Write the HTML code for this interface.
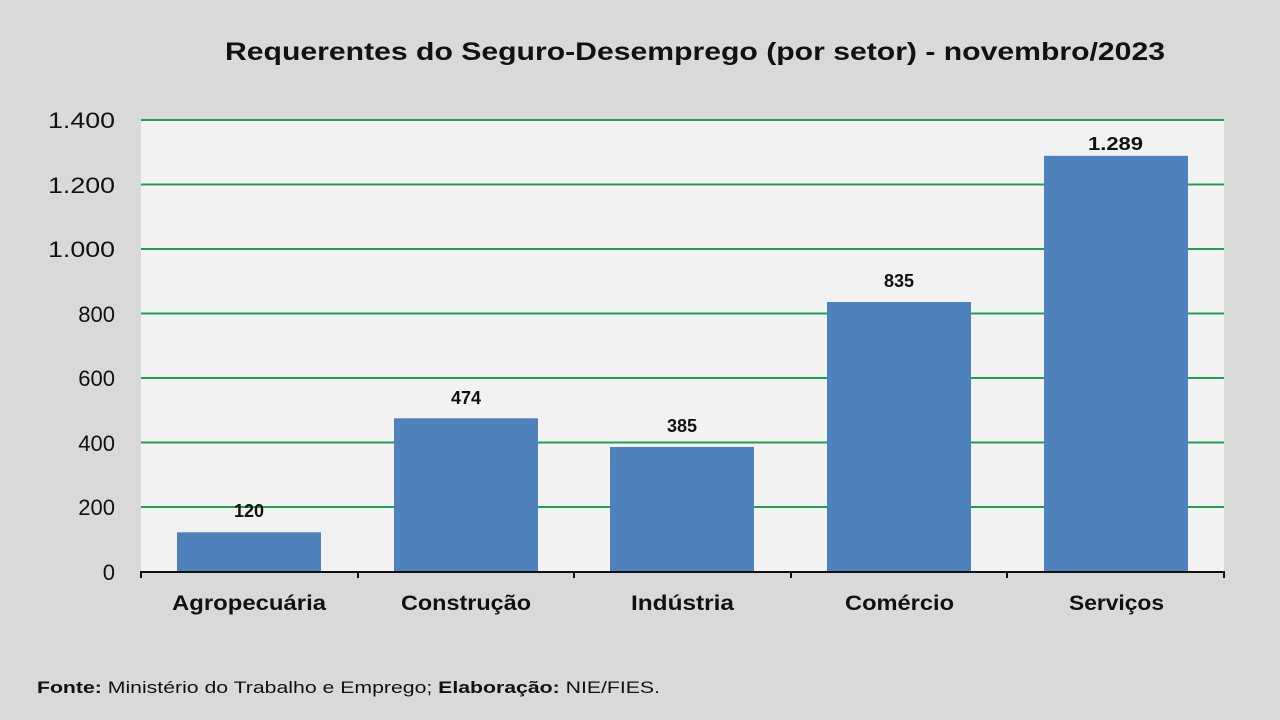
<!DOCTYPE html>
<html><head><meta charset="utf-8"><style>
body{margin:0;width:1280px;height:720px;background:#d9d9d9;overflow:hidden}
svg{display:block}
text{font-family:"Liberation Sans","DejaVu Sans",sans-serif}
</style></head><body>
<svg width="1280" height="720" xmlns="http://www.w3.org/2000/svg">
<rect width="1280" height="720" fill="#d9d9d9"/>
<text x="225" y="60" textLength="940" lengthAdjust="spacingAndGlyphs" font-size="25" font-weight="bold" fill="#111">Requerentes do Seguro-Desemprego (por setor) - novembro/2023</text>
<rect x="141" y="120" width="1083" height="451" fill="#f2f2f2"/>
<g stroke="#1fa050" stroke-width="2">
<line x1="141" x2="1224" y1="120" y2="120"/><line x1="141" x2="1224" y1="184.5" y2="184.5"/>
<line x1="141" x2="1224" y1="249" y2="249"/><line x1="141" x2="1224" y1="313.5" y2="313.5"/>
<line x1="141" x2="1224" y1="378" y2="378"/><line x1="141" x2="1224" y1="442.5" y2="442.5"/>
<line x1="141" x2="1224" y1="507" y2="507"/>
</g>
<g font-size="22" fill="#111">
<text x="48" y="128" textLength="67" lengthAdjust="spacingAndGlyphs">1.400</text>
<text x="48" y="193" textLength="67" lengthAdjust="spacingAndGlyphs">1.200</text>
<text x="48" y="257" textLength="67" lengthAdjust="spacingAndGlyphs">1.000</text>
<text x="115" y="322" text-anchor="end">800</text><text x="115" y="386" text-anchor="end">600</text>
<text x="115" y="451" text-anchor="end">400</text><text x="115" y="515" text-anchor="end">200</text>
<text x="115" y="580" text-anchor="end">0</text>
</g>
<g fill="#4f81bd">
<rect x="177" y="532.3" width="144" height="38.7"/>
<rect x="394" y="418.3" width="144" height="152.7"/>
<rect x="610" y="447" width="144" height="124"/>
<rect x="827" y="302" width="144" height="269"/>
<rect x="1044" y="155.8" width="144" height="415.2"/>
</g>
<g font-size="18" font-weight="bold" fill="#111" text-anchor="middle">
<text x="249" y="517">120</text><text x="466" y="404">474</text><text x="682" y="432">385</text>
<text x="899" y="287">835</text><text x="1088" y="150" text-anchor="start" textLength="55" lengthAdjust="spacingAndGlyphs">1.289</text>
</g>
<g stroke="#111" stroke-width="2">
<line x1="141" x2="1224" y1="572" y2="572"/>
<line x1="141" x2="141" y1="571" y2="578"/><line x1="358" x2="358" y1="571" y2="578"/>
<line x1="574" x2="574" y1="571" y2="578"/><line x1="791" x2="791" y1="571" y2="578"/>
<line x1="1007" x2="1007" y1="571" y2="578"/><line x1="1224" x2="1224" y1="571" y2="578"/>
</g>
<g font-size="21" font-weight="bold" fill="#111" lengthAdjust="spacingAndGlyphs">
<text x="172" y="610" textLength="154" lengthAdjust="spacingAndGlyphs">Agropecuária</text>
<text x="401" y="610" textLength="130" lengthAdjust="spacingAndGlyphs">Construção</text>
<text x="631" y="610" textLength="103" lengthAdjust="spacingAndGlyphs">Indústria</text>
<text x="845" y="610" textLength="109" lengthAdjust="spacingAndGlyphs">Comércio</text>
<text x="1069" y="610" textLength="95" lengthAdjust="spacingAndGlyphs">Serviços</text>
</g>
<text x="37" y="693" font-size="17" fill="#111" textLength="623" lengthAdjust="spacingAndGlyphs"><tspan font-weight="bold">Fonte:</tspan> Ministério do Trabalho e Emprego; <tspan font-weight="bold">Elaboração:</tspan> NIE/FIES.</text>
</svg>
</body></html>
